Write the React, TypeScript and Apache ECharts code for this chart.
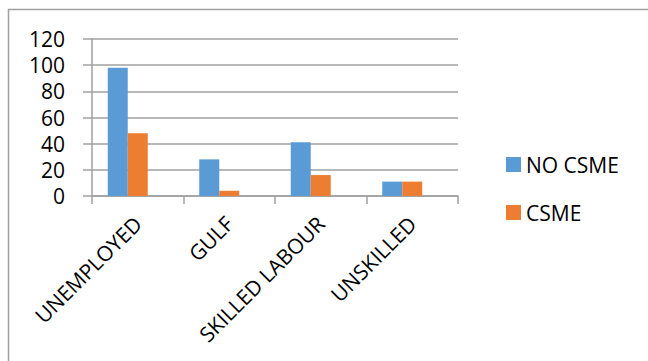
import React, { useEffect, useRef } from "react";
import * as echarts from "echarts";

const categories = ["UNEMPLOYED", "GULF", "SKILLED LABOUR", "UNSKILLED"];
const noCsme = [98, 28, 41, 11];
const csme = [48, 4, 16, 11];
const yTicks = { min: 0, max: 120, interval: 20 };

const FONT = "'Open Sans', 'Liberation Sans', sans-serif";
const GRAY = "#a0a0a0";

export default function App() {
  const ref = useRef<HTMLDivElement>(null);
  useEffect(() => {
    if (!ref.current) return;
    const chart = echarts.init(ref.current, undefined, { renderer: "svg" });
    chart.setOption({
      animation: false,
      backgroundColor: "#ffffff",
      textStyle: { fontFamily: FONT },
      graphic: [
        {
          type: "rect",
          shape: { x: 8.5, y: 9.5, width: 800, height: 600 },
          style: { fill: "none", stroke: GRAY, lineWidth: 1.5 },
          silent: true,
        },
      ],
      grid: { left: 92, right: 190, top: 39, bottom: 165, containLabel: false },
      legend: {
        data: ["NO CSME", "CSME"],
        orient: "vertical",
        left: 501,
        top: 149,
        itemWidth: 15,
        itemHeight: 15,
        itemGap: 27,
        icon: "rect",
        textStyle: { fontFamily: FONT, fontSize: 21, color: "#000", padding: [0, 0, 0, 0] },
      },
      xAxis: {
        type: "category",
        data: categories,
        boundaryGap: true,
        axisLine: { show: true, lineStyle: { color: GRAY, width: 1.5 } },
        axisTick: { show: true, length: 8, alignWithLabel: false, lineStyle: { color: GRAY, width: 1.5 } },
        axisLabel: {
          rotate: 45,
          interval: 0,
          margin: 24,
          verticalAlign: "middle",
          fontFamily: FONT,
          fontSize: 21,
          color: "#000",
        },
      },
      yAxis: {
        type: "value",
        min: yTicks.min,
        max: yTicks.max,
        interval: yTicks.interval,
        axisLine: { show: true, lineStyle: { color: GRAY, width: 1.5 } },
        axisTick: { show: true, length: 9, lineStyle: { color: GRAY, width: 1.5 } },
        splitLine: { show: true, lineStyle: { color: GRAY, width: 1.5 } },
        axisLabel: { margin: 27, fontFamily: FONT, fontSize: 21, color: "#000" },
      },
      series: [
        {
          name: "NO CSME",
          type: "bar",
          data: noCsme,
          barWidth: 20,
          barGap: "0%",
          itemStyle: { color: "#5B9BD5" },
        },
        {
          name: "CSME",
          type: "bar",
          data: csme,
          barWidth: 20,
          barGap: "0%",
          itemStyle: { color: "#ED7D31" },
        },
        {
          name: "spacer",
          type: "bar",
          data: [],
          barWidth: 20,
          barGap: "0%",
          itemStyle: { color: "transparent" },
        },
      ],
    });
    return () => chart.dispose();
  }, []);
  return (
    <div
      ref={ref}
      style={{ position: "fixed", left: 0, top: 0, width: 648, height: 361 }}
    />
  );
}
